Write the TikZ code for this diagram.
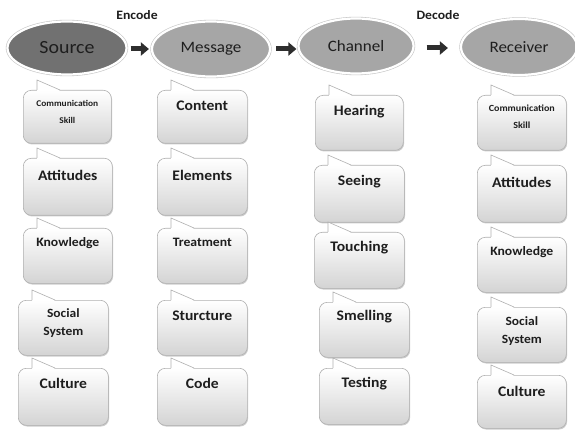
\documentclass[tikz,border=0pt]{standalone}
\usepackage{fontspec}
\setmainfont[FakeStretch=1.07]{Carlito}
\usetikzlibrary{shapes.geometric,shadows,arrows.meta,calc}
\definecolor{srcfill}{HTML}{717171}
\definecolor{ellfill}{HTML}{A6A6A6}
\definecolor{boxline}{HTML}{B0B0B0}
\definecolor{arrowc}{HTML}{2E2E2E}
\definecolor{txt}{HTML}{1E1E1E}
\tikzset{
  ell/.style={ellipse, inner sep=0pt, fill=ellfill, draw=white, line width=2.2pt,
    preaction={draw=gray!45, line width=3.4pt}, text=txt,
    font=\fontsize{15.9}{17}\selectfont},
  cbox/.style={rectangle, rounded corners=8pt, top color=white, bottom color=gray!34,
    draw=boxline, line width=0.6pt,
    drop shadow={shadow xshift=0.8pt, shadow yshift=-1.2pt, opacity=0.4, fill=gray}},
  btext/.style={inner sep=0pt, align=center, text=txt},
  arr/.style={draw=arrowc, line width=5pt, -{Triangle[length=8pt,width=13pt]}},
  lbl/.style={inner sep=0pt, text=txt, font=\fontsize{12.8}{14}\bfseries\selectfont}
}
\newcommand\callout[8]{%
  \pgfmathsetmacro\cbw{#4-#2}\pgfmathsetmacro\cbh{#5-#3}%
  \node[cbox, minimum width=\cbw pt, minimum height=\cbh pt, anchor=north west] (#1) at (#2,#3) {};
  \fill[white] ([xshift=14pt,yshift=-0.8pt]#1.north west) -- ([xshift=14pt,yshift=10pt]#1.north west)
     -- ([xshift=37pt,yshift=-0.8pt]#1.north west) -- cycle;
  \draw[boxline, line width=0.6pt] ([xshift=14pt]#1.north west) -- ([xshift=14pt,yshift=10pt]#1.north west)
     -- ([xshift=37pt]#1.north west);
  \node[btext, font=#6] (#1t) at ($(#1.north)+(0,#7)$) {#8};
}
\newcommand\bigf{\fontsize{14.6}{16}\bfseries\selectfont}
\newcommand\midf{\fontsize{12.8}{14}\bfseries\selectfont}
\newcommand\socf{\fontsize{12.6}{18}\bfseries\selectfont}
\begin{document}
\begin{tikzpicture}[x=1pt,y=-1pt]
\useasboundingbox[fill=white] (0,0) rectangle (575,430);
% ellipses
\node[ell, fill=srcfill, minimum width=119pt, minimum height=53pt,
      font=\fontsize{18.6}{20}\selectfont] (src) at (67,48) {Source};
\node[ell, minimum width=118pt, minimum height=55pt] (msg) at (211,49) {Message};
\node[ell, minimum width=115pt, minimum height=55pt] (chn) at (356,46) {Channel};
\node[ell, minimum width=116pt, minimum height=56pt] (rcv) at (519,47) {Receiver};
% arrows
\draw[arr, shorten <=3pt, shorten >=2pt] (src.east |- 0,49) -- (msg.west |- 0,49);
\draw[arr, shorten <=5pt, shorten >=1pt] (msg.east |- 0,49) -- (chn.west |- 0,49);
\draw[arr, shorten <=12pt, shorten >=12pt] (chn.east |- 0,48) -- (rcv.west |- 0,48);
\node[lbl] (enc) at (137,15) {Encode};
\node[lbl] (dec) at (438,15) {Decode};
% source column
\callout{s1}{23}{90}{111}{143}{\fontsize{8.8}{17}\bfseries\selectfont}{21.5}{Communication\\Skill}
\callout{s2}{23}{158}{112}{215}{\bigf}{17}{Attitudes}
\callout{s3}{23}{228}{112}{283}{\midf}{15}{Knowledge}
\callout{s4}{18}{300}{108}{355}{\socf}{23}{Social\\System}
\callout{s5}{18}{368}{108}{425}{\bigf}{15}{Culture}
% message column
\callout{m1}{157}{90}{247}{143}{\bigf}{16}{Content}
\callout{m2}{157}{158}{247}{215}{\bigf}{17}{Elements}
\callout{m3}{157}{228}{247}{283}{\midf}{14}{Treatment}
\callout{m4}{157}{300}{247}{355}{\bigf}{16}{Sturcture}
\callout{m5}{157}{368}{247}{425}{\bigf}{15}{Code}
% channel column
\callout{c1}{315}{95}{403}{150}{\bigf}{17}{Hearing}
\callout{c2}{314}{165}{404}{222}{\bigf}{17}{Seeing}
\callout{c3}{314}{232}{404}{288}{\bigf}{16}{Touching}
\callout{c4}{319}{302}{409}{357}{\bigf}{15}{Smelling}
\callout{c5}{319}{368}{409}{424}{\bigf}{16}{Testing}
% receiver column
\callout{r1}{477}{95}{566}{150}{\fontsize{9.4}{17}\bfseries\selectfont}{21.5}{Communication\\Skill}
\callout{r2}{477}{165}{566}{222}{\bigf}{17}{Attitudes}
\callout{r3}{477}{237}{566}{292}{\midf}{15}{Knowledge}
\callout{r4}{477}{307}{566}{362}{\socf}{24}{Social\\System}
\callout{r5}{477}{375}{566}{428}{\bigf}{16}{Culture}
\end{tikzpicture}
\end{document}
